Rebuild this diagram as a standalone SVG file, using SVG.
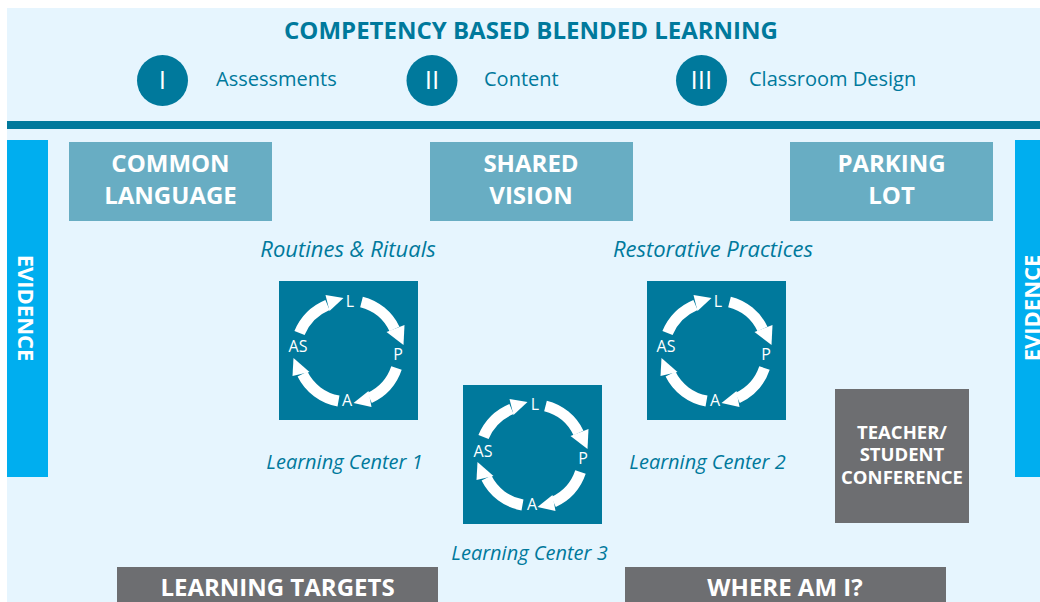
<svg xmlns="http://www.w3.org/2000/svg" width="1040" height="602" viewBox="0 0 1040 602">
<style>
text{font-family:"Open Sans","Liberation Sans",sans-serif}
.teal{fill:#00799c}
.lt{fill:#68adc3}
.gr{fill:#6d6e71}
.ev{fill:#00aeef}
.w{fill:#fff}
.b{font-weight:700;fill:#fff;text-anchor:middle}
.h{font-size:24px}
.m{font-size:18.5px}
.it{font-style:italic;fill:#00799c;text-anchor:middle}
.it1{font-size:22px}
.it2{font-size:20px}
.sub{font-size:20px;fill:#00799c}
.rn{font-size:26px;fill:#fff;text-anchor:middle}
.cl{font-size:16px;fill:#fff;text-anchor:middle}
.arc{fill:none;stroke:#fff;stroke-width:11}
</style>
<defs>
<g id="cycle">
<rect x="-69.500" y="-71" width="139" height="139" class="teal"/>
<path class="arc" d="M13-50A50 50 0 0 1 46-23"/><polygon class="w" points="38,-20 56,-27 55,-7"/>
<path class="arc" d="M48 16A51 51 0 0 1 21 46"/><polygon class="w" points="20,39 23,55 5,51"/>
<path class="arc" d="M-10 49A50 50 0 0 1 -46 22"/><polygon class="w" points="-39,20 -56,24 -55,6"/>
<path class="arc" d="M-49-19A52 52 0 0 1 -21-47"/><polygon class="w" points="-19,-41 -23,-57 -5,-54"/>
</g>
</defs>
<rect x="7" y="8" width="1033" height="594" fill="#e6f5fe"/>
<rect x="7" y="121" width="1033" height="8" class="teal"/>
<g id="title"><text x="531" y="39" font-size="24" font-weight="700" text-anchor="middle" class="teal">COMPETENCY BASED BLENDED LEARNING</text></g>
<g id="item-1"><circle cx="162.500" cy="80.500" r="25.500" class="teal"/><text x="162.500" y="89" class="rn">I</text><text x="216" y="86" class="sub">Assessments</text></g>
<g id="item-2"><circle cx="432" cy="80.500" r="25.500" class="teal"/><text x="432" y="89" class="rn">II</text><text x="484" y="86" class="sub">Content</text></g>
<g id="item-3"><circle cx="701.500" cy="80.500" r="25.500" class="teal"/><text x="701.500" y="89" class="rn">III</text><text x="749" y="86" class="sub">Classroom Design</text></g>
<g id="evidence-left"><rect x="7" y="140" width="41" height="337" class="ev"/><text class="b m" transform="translate(18,308) rotate(90)" style="font-size:22px">EVIDENCE</text></g>
<g id="evidence-right"><rect x="1015" y="140" width="25" height="337" class="ev"/><text class="b m" transform="translate(1040,308) rotate(-90)" style="font-size:22px">EVIDENCE</text></g>
<g id="common-language"><rect x="69" y="142" width="203" height="79" class="lt"/><text class="b h" x="170.500" y="172">COMMON</text><text class="b h" x="170.500" y="204">LANGUAGE</text></g>
<g id="shared-vision"><rect x="430" y="142" width="203" height="79" class="lt"/><text class="b h" x="531" y="172">SHARED</text><text class="b h" x="531" y="204">VISION</text></g>
<g id="parking-lot"><rect x="790" y="142" width="203" height="79" class="lt"/><text class="b h" x="891.500" y="172">PARKING</text><text class="b h" x="891.500" y="204">LOT</text></g>
<g id="routines"><text class="it it1" x="348" y="257">Routines &amp; Rituals</text></g>
<g id="restorative"><text class="it it1" x="713" y="257">Restorative Practices</text></g>
<g id="center-1"><use href="#cycle" x="348.500" y="352"/><text class="cl" x="350" y="307">L</text><text class="cl" x="398" y="360">P</text><text class="cl" x="347" y="406">A</text><text class="cl" x="298" y="352">AS</text><text class="it it2" x="344.500" y="469">Learning Center 1</text></g>
<g id="center-2"><use href="#cycle" x="716.500" y="352"/><text class="cl" x="718" y="307">L</text><text class="cl" x="766" y="360">P</text><text class="cl" x="715" y="406">A</text><text class="cl" x="666" y="352">AS</text><text class="it it2" x="707.500" y="469">Learning Center 2</text></g>
<g id="center-3"><use href="#cycle" x="532.500" y="456"/><text class="cl" x="535" y="410">L</text><text class="cl" x="583" y="464">P</text><text class="cl" x="532" y="510">A</text><text class="cl" x="483" y="457">AS</text><text class="it it2" x="529.500" y="560">Learning Center 3</text></g>
<g id="conference"><rect x="835" y="389" width="134" height="134" class="gr"/><text class="b m" x="902" y="439">TEACHER/</text><text class="b m" x="902" y="461">STUDENT</text><text class="b m" x="902" y="484">CONFERENCE</text></g>
<g id="targets"><rect x="117" y="567" width="321" height="35" class="gr"/><text class="b h" x="277.500" y="596">LEARNING TARGETS</text></g>
<g id="where"><rect x="625" y="567" width="321" height="35" class="gr"/><text class="b h" x="785" y="596">WHERE AM I?</text></g>
<g id="connectors"></g>
</svg>
